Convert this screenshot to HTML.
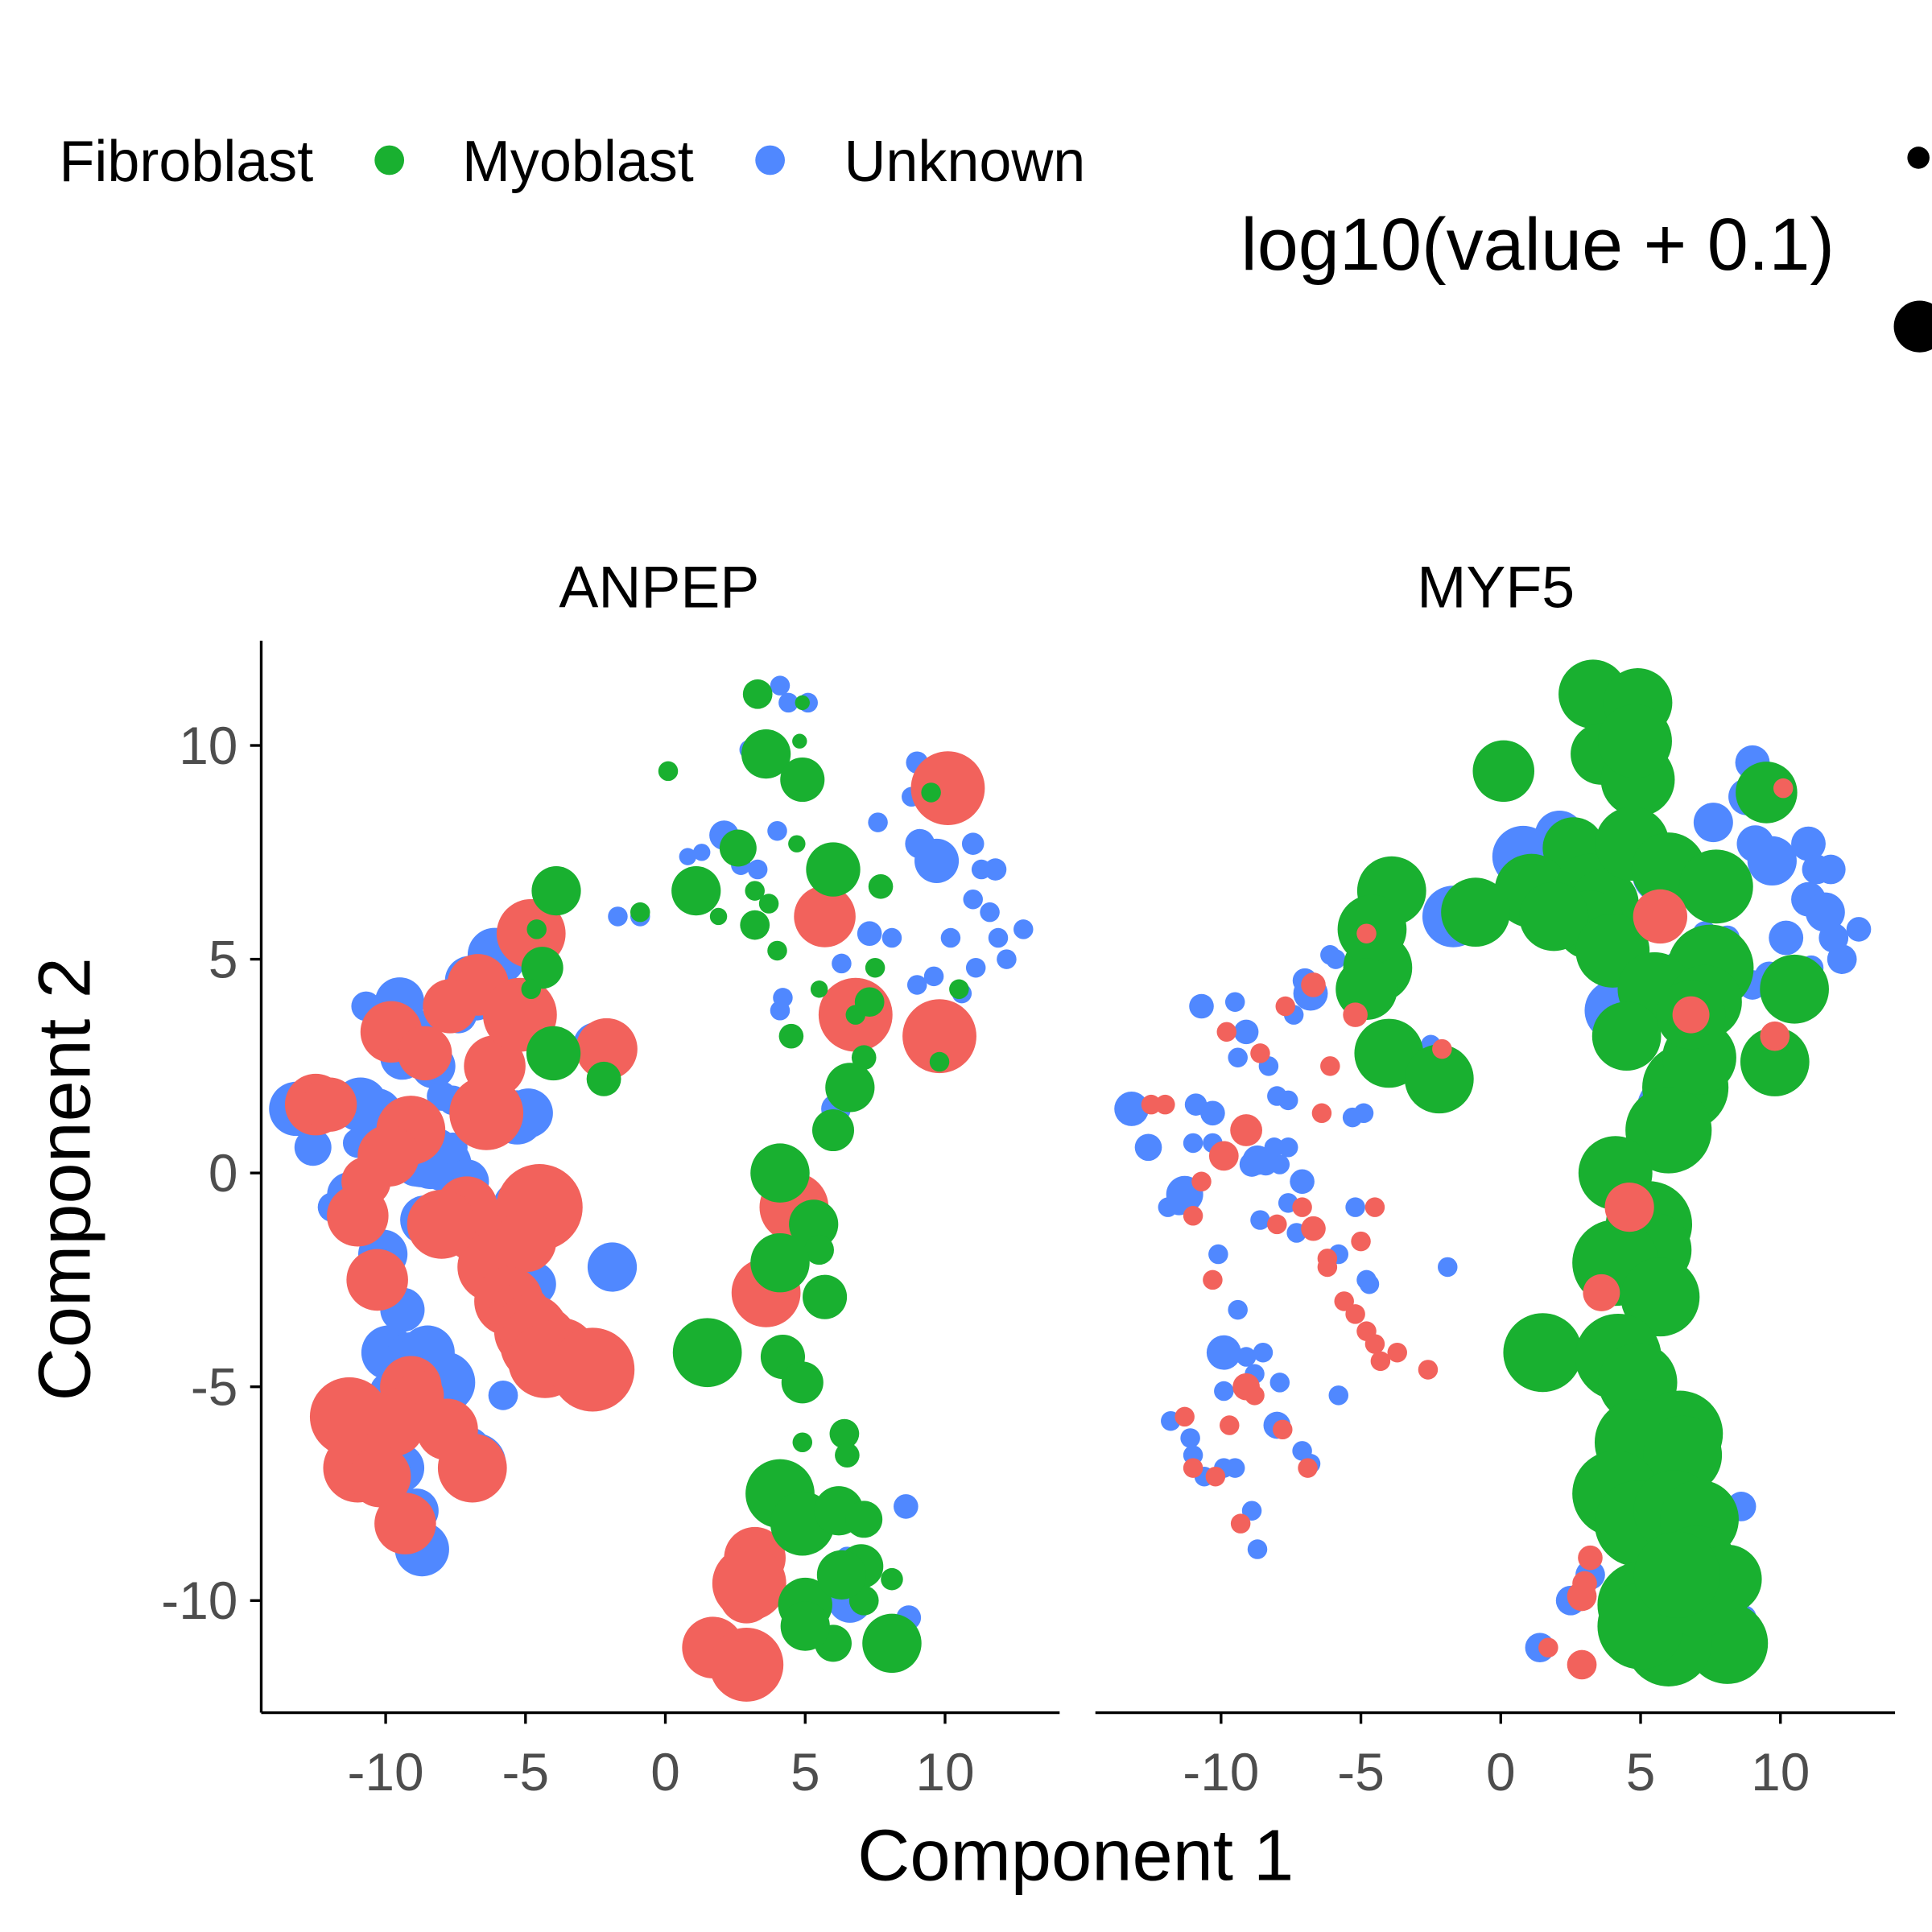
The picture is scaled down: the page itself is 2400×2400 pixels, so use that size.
<!DOCTYPE html>
<html><head><meta charset="utf-8"><style>
html,body{margin:0;padding:0;background:#fff}
svg{display:block}
text{font-family:"Liberation Sans",Arial,sans-serif}
</style></head><body>
<svg id="chart" width="2400" height="2400" viewBox="0 0 1568 1568" xmlns="http://www.w3.org/2000/svg">
<defs>
<clipPath id="clipL"><rect x="212" y="520" width="648" height="870"/></clipPath>
<clipPath id="clipR"><rect x="889" y="520" width="649" height="870"/></clipPath>
</defs>
<g>
<text x="48" y="147" font-size="47">Fibroblast</text>
<circle cx="316" cy="130" r="12" fill="#19B030"/>
<text x="375" y="147" font-size="47">Myoblast</text>
<circle cx="625" cy="130" r="12" fill="#5088FF"/>
<text x="685" y="147" font-size="47">Unknown</text>
</g>
<g>
<text x="1007" y="219" font-size="60">log10(value + 0.1)</text>
<circle cx="1557" cy="128" r="9" fill="#000"/>
<circle cx="1558" cy="265" r="21" fill="#000"/>
</g>
<text x="535" y="493" font-size="48" text-anchor="middle">ANPEP</text>
<text x="1214" y="493" font-size="48" text-anchor="middle">MYF5</text>
<g id="panelL" clip-path="url(#clipL)"></g>
<g id="panelR" clip-path="url(#clipR)"></g>
<g id="axes"></g>
<text x="873" y="1526" font-size="59" text-anchor="middle">Component 1</text>
<text x="0" y="0" font-size="60" text-anchor="middle" transform="translate(73,957) rotate(-90)">Component 2</text>
</svg>
<script>
// Fibroblast cells: x, y, ANPEP size, MYF5 size
const fibX=[-12.5,-12.0,-9.8,-8.6,-6.1,-6.4,-9.1,-9.9,-10.7,-7.1,-6.7,-6.2,-6.2,-4.5,-5.0,-5.6,-5.2,-4.8,-4.5,-4.3,-3.7,-2.6,-9.1,-8.8,-9.7,-11.3,-11.0,-10.2,-7.8,-6.9,-9.3,-6.7,-4.8,-2.1,-5.2,-10.3,-11.0,-8.0,-7.7,5.7,6.8,9.8,10.1,4.6,3.6,3.2,3.0,1.7,2.9,2.9];
const fibY=[1.6,1.6,3.3,2.8,2.5,1.4,1.0,0.4,-0.2,-0.8,-1.3,-2.0,-2.2,-0.8,-1.6,-3.0,-3.3,-3.7,-4.0,-4.4,-4.2,-4.6,-5.0,-5.2,-5.9,-5.7,-6.9,-7.1,-6.0,-6.9,-8.2,4.4,5.6,2.9,3.7,-2.5,-1.0,-1.2,3.9,6.0,3.7,3.2,9.0,-0.8,-2.8,-9.0,-9.6,-11.1,-11.5,-9.9];
const fibAnpep=[2.5,2.2,2.5,2.2,2.5,3.0,2.8,2.5,2.0,2.5,2.8,2.5,2.8,3.5,2.5,2.8,2.5,3.0,3.2,3.0,2.8,3.4,2.5,2.0,2.5,3.2,2.8,2.5,2.5,2.8,2.5,2.5,2.8,2.5,3.0,2.5,2.5,2.8,2.2,2.5,3.0,3.0,3.0,2.8,2.8,2.5,3.0,2.5,3.0,2.2];
const fibMyf5=[0.8,0.8,0.8,0.8,0.8,0.8,1.3,1.2,0.8,0.8,1.0,0.8,0.8,0.8,0.8,0.8,0.8,0.8,0.8,0.8,0.8,0.8,1.1,0.8,0.8,0.8,0.8,0.8,0.8,0.8,0.8,1.0,0.8,0.8,1.0,0.8,0.8,0.8,0.8,2.2,1.5,1.2,0.8,2.0,1.5,1.0,1.0,0.8,1.2,1.2];
// Unknown cells
const unkX=[-13.2,-12.6,-10.7,-9.4,-9.1,-8.3,-11.3,-11.5,-11.9,-10.9,-10.3,-10.3,-11.0,-8.9,-8.7,-8.4,-7.9,-7.6,-8.1,-7.1,-7.6,-7.3,-5.8,-5.2,-4.7,-1.9,-5.8,-9.4,-9.9,-9.1,-8.5,-8.8,-7.9,-9.9,-11.8,-11.1,-11.0,-9.9,-10.6,-9.5,-8.0,-7.1,-6.8,-8.9,-8.7,-7.0,-6.1,-2.5,-6.8,-7.4,-8.0,-7.6,-5.3,-4.9,-10.1,-8.6,-4.8,-9.5,-5.9,3.4,4.1,4.4,5.1,3.0,2.1,0.8,1.3,2.7,3.3,4.0,5.8,7.6,9.0,8.8,9.1,9.7,11.0,11.8,11.3,11.0,11.6,10.2,8.1,7.3,12.8,11.9,12.2,11.1,9.0,9.6,10.6,-1.7,-0.9,6.3,4.2,4.1,6.1,6.6,8.6,8.7,6.5,3.2,2.5,1.4];
const unkY=[1.5,0.6,3.9,2.7,3.3,2.5,-0.5,-0.7,-0.8,1.6,1.4,0.7,0.7,0.2,0.3,0.2,0.2,0.6,0.6,-0.2,-0.7,-1.4,-1.9,-0.8,-2.6,-2.2,-5.2,-3.2,-4.2,-4.3,-4.2,-4.7,-4.9,-5.1,-5.8,-6.2,-6.6,-6.9,-7.1,-6.9,-5.9,-6.5,-6.8,-7.9,-8.8,4.5,5.1,3.0,4.2,3.7,1.8,1.7,1.3,1.4,-1.9,-1.1,-2.5,4.0,5.0,11.2,11.4,11.0,11.0,9.9,7.9,7.4,7.5,7.2,7.1,8.0,7.0,8.2,9.6,8.8,7.7,7.3,7.7,7.1,7.1,6.4,6.1,5.5,5.5,5.6,5.7,5.5,5.0,4.8,4.4,4.6,4.2,6.0,6.0,4.9,4.1,3.8,1.5,-10.0,-7.8,-10.4,-9.0,-9.4,-10.0,-11.1];
const unkAnpep=[2.2,1.5,1.2,1.8,2.0,1.8,1.8,1.5,1.2,2.2,2.0,1.5,1.2,1.8,2.2,2.0,2.2,1.2,1.5,1.8,1.5,1.0,1.5,2.2,1.8,2.0,1.2,1.8,2.2,2.0,2.2,1.8,2.5,1.5,1.5,2.2,2.0,1.8,1.5,2.0,2.2,2.0,2.5,1.8,2.2,2.0,2.2,1.8,2.2,1.5,1.2,1.2,2.2,2.0,2.0,2.0,1.5,2.0,2.0,0.8,0.8,0.8,0.8,0.8,1.2,0.7,0.7,0.8,0.8,0.8,0.8,0.8,0.9,0.8,1.2,1.8,0.9,0.9,0.8,0.8,0.8,0.8,0.8,1.0,0.8,0.8,0.8,0.8,0.8,0.8,0.8,0.8,0.8,0.8,0.8,0.8,1.2,1.8,1.0,1.0,0.9,0.8,0.8,0.8];
const unkMyf5=[1.4,1.1,1.0,0.8,1.0,0.8,1.5,1.0,0.8,0.9,1.0,0.8,0.8,1.0,1.2,0.9,0.8,0.8,0.8,1.0,0.8,0.8,0.8,0.8,0.8,0.8,0.8,0.8,1.4,0.8,0.8,0.8,0.8,0.8,0.8,0.8,0.8,0.8,0.8,0.8,1.1,0.8,0.8,0.8,0.8,1.0,0.8,0.8,1.4,0.8,0.8,0.8,0.8,0.8,0.8,0.8,0.8,0.8,0.8,0.8,0.8,0.8,0.8,0.8,2.0,2.5,0.8,2.8,2.5,0.8,2.5,1.6,1.4,1.5,1.5,2.0,1.4,1.2,1.2,1.4,1.6,1.4,1.0,1.0,1.0,1.2,1.2,1.0,1.2,1.2,1.2,2.5,1.2,1.0,1.0,2.5,2.8,2.2,1.2,1.0,2.2,1.2,1.2,1.2];
// Myoblast cells
const myoX=[3.3,4.9,3.6,4.9,0.1,4.8,2.6,1.1,3.2,3.7,3.2,1.9,4.0,4.7,6.0,7.7,7.5,5.5,4.5,7.3,6.6,6.0,4.1,7.1,5.3,5.5,4.1,5.7,1.5,4.2,4.9,4.9,6.4,6.5,4.1,4.9,6.2,7.1,7.0,5.0,8.1,8.1,6.0,5.0,7.1,6.3,-3.9,-4.4,-4.0,-2.2,-4.6,-4.8,-0.9,10.5,9.8,9.5,6.8];
const myoY=[11.2,11.0,9.8,9.2,9.4,10.1,7.6,6.6,6.6,6.3,5.8,6.0,5.2,7.7,7.1,6.7,4.8,4.3,3.2,4.0,2.0,1.0,0.0,2.7,-1.2,-1.8,-2.1,-2.9,-4.2,-4.3,-4.9,-6.3,-6.1,-6.6,-7.5,-8.2,-7.9,-8.1,-9.2,-10.1,-9.5,-11.0,-11.0,-10.6,-10.0,-9.4,6.6,4.8,2.8,2.2,5.7,4.3,6.1,4.3,2.6,8.9,3.7];
const myoAnpep=[1.2,0.6,2.0,1.8,0.8,0.6,1.5,2.0,0.8,0.8,1.2,0.7,0.8,0.7,2.2,1.0,0.8,0.7,1.0,1.2,2.0,1.7,2.4,1.0,2.0,1.2,2.4,1.8,2.8,1.8,1.7,0.8,1.2,1.0,2.8,2.6,2.0,1.5,1.8,2.2,0.9,2.4,1.5,2.0,1.2,2.0,2.0,1.7,2.2,1.4,0.8,0.8,0.8,0.8,0.8,0.8,0.8];
const myoMyf5=[2.8,2.8,2.5,3.0,2.5,3.0,2.5,3.0,3.0,2.8,2.8,2.8,3.0,3.0,3.0,3.0,3.5,3.0,2.8,3.0,3.5,3.5,3.0,3.0,3.5,3.0,3.5,3.2,3.2,3.5,3.2,3.5,3.5,3.2,3.5,3.5,3.3,3.2,3.3,3.5,2.8,3.3,3.5,3.5,3.0,3.5,2.8,2.8,2.8,2.8,2.8,2.5,2.8,2.8,2.8,2.5,2.8];
const xTicks=[-10,-5,0,5,10];
const yTicks=[10,5,0,-5,-10];
const colors={fib:"#F2625C",unk:"#5088FF",myo:"#19B030"};

const NS="http://www.w3.org/2000/svg";
const xScale=(v,off)=>540+off+22.7*v;
const yScale=v=>952-34.7*v;
const rScale=v=>v*10;
function drawGroup(panel,off,X,Y,S,col,name){
  for(let i=0;i<X.length;i++){
    const c=document.createElementNS(NS,"circle");
    c.setAttribute("cx",xScale(X[i],off));
    c.setAttribute("cy",yScale(Y[i]));
    c.setAttribute("r",rScale(S[i]));
    c.setAttribute("fill",col);
    
    
    panel.appendChild(c);
  }
}
const pL=document.getElementById("panelL"), pR=document.getElementById("panelR");
drawGroup(pL,0,unkX,unkY,unkAnpep,colors.unk,"unknown");
drawGroup(pL,0,fibX,fibY,fibAnpep,colors.fib,"fibroblast");
drawGroup(pL,0,myoX,myoY,myoAnpep,colors.myo,"myoblast");
drawGroup(pR,678,unkX,unkY,unkMyf5,colors.unk,"unknown");
drawGroup(pR,678,myoX,myoY,myoMyf5,colors.myo,"myoblast");
drawGroup(pR,678,fibX,fibY,fibMyf5,colors.fib,"fibroblast");

const ax=document.getElementById("axes");
function line(x1,y1,x2,y2,name){
  const l=document.createElementNS(NS,"line");
  l.setAttribute("x1",x1);l.setAttribute("y1",y1);l.setAttribute("x2",x2);l.setAttribute("y2",y2);
  l.setAttribute("stroke","#000");l.setAttribute("stroke-width","2.2");
  
  
  ax.appendChild(l);
}
function text(x,y,s,anchor,name){
  const t=document.createElementNS(NS,"text");
  t.setAttribute("x",x);t.setAttribute("y",y);t.setAttribute("font-size","43");
  t.setAttribute("fill","#4d4d4d");t.setAttribute("text-anchor",anchor);
  t.textContent=s;
  
  
  ax.appendChild(t);
}
line(212,520,212,1390,"y-axis-line");
line(212,1390,860,1390,"x-axis-line-anpep");
line(889,1390,1538,1390,"x-axis-line-myf5");
yTicks.forEach(v=>{const y=yScale(v);line(203,y,212,y,"y-tick");text(193,y+15,String(v),"end","y-tick-label");});
[0,678].forEach(off=>{xTicks.forEach(v=>{const x=xScale(v,off);line(x,1390,x,1399,"x-tick");text(x,1453,String(v),"middle","x-tick-label");});});
</script>
</body></html>
